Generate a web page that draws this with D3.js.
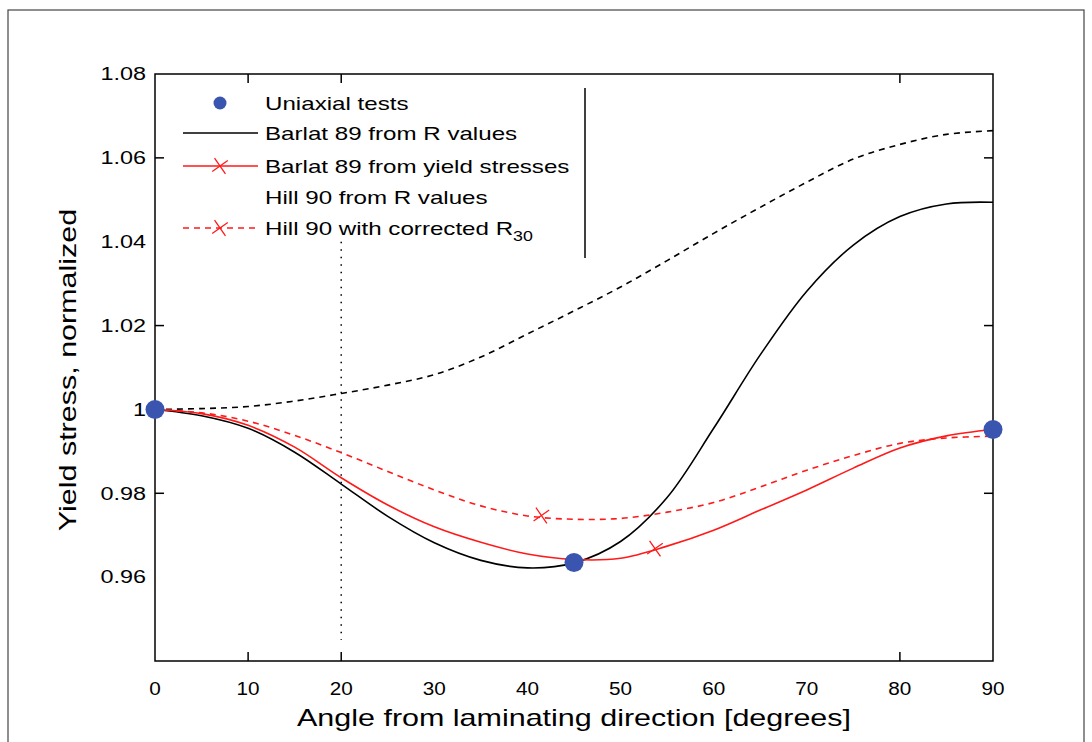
<!DOCTYPE html>
<html><head><meta charset="utf-8">
<script src="https://cdn.jsdelivr.net/npm/d3@7"></script>
<style>body{margin:0;background:#fff}svg{display:block}text{font-family:"Liberation Sans",Arial,sans-serif;fill:#000}</style>
</head><body><svg id="c" width="1092" height="742"></svg>
<script>
const angles = [0,5,10,15,20,25,30,35,40,45,50,55,60,65,70,75,80,85,90];
const barlatR = [1.0000,0.9985,0.9955,0.9898,0.9822,0.9745,0.9682,0.9640,0.9622,0.9634,0.9685,0.9790,0.9955,1.0130,1.0282,1.0392,1.0460,1.0490,1.0494];
const barlatYS = [1.0000,0.9990,0.9962,0.9910,0.9837,0.9772,0.9720,0.9683,0.9655,0.9642,0.9645,0.9674,0.9712,0.9760,0.9808,0.9860,0.9908,0.9937,0.9952];
const hillR = [1.0000,1.0002,1.0007,1.0020,1.0038,1.0058,1.0083,1.0125,1.0180,1.0235,1.0292,1.0355,1.0420,1.0482,1.0542,1.0597,1.0632,1.0656,1.0665];
const hillCorr = [1.0000,0.9992,0.9972,0.9938,0.9897,0.9852,0.9808,0.9770,0.9746,0.9738,0.9740,0.9755,0.9778,0.9815,0.9855,0.9890,0.9919,0.9932,0.9936];
const testAngles = [0,45,90];
const testValues = [1.000,0.9635,0.9952];
const markYS = [[53.7,0.9668]];
const markHill = [[41.5,0.9747]];
const xTickLabels = [0,10,20,30,40,50,60,70,80,90];
const xTickMarks = [10,20,80];
const yTickLabels = [1.08,1.06,1.04,1.02,1,0.98,0.96];
const yTickMarks = [1.06,1.02,0.98];
const refLineX = 20, refLineY = [1.04,0.945];
const legendLabels = ["Uniaxial tests","Barlat 89 from R values","Barlat 89 from yield stresses","Hill 90 from R values","Hill 90 with corrected R"];

const svg = d3.select("#c");
const x = d3.scaleLinear().domain([0,90]).range([155,993]);
const y = d3.scaleLinear().domain([0.94,1.08]).range([661,74]);
const red = "#ff1a1a", blue = "#3a55b0";
function stretch(t, k){ const w = t.node().getComputedTextLength(); t.attr("textLength", w*k).attr("lengthAdjust","spacingAndGlyphs"); return t; }

// outer frame
svg.append("rect").attr("x",8).attr("y",10).attr("width",1076).attr("height",740)
  .attr("fill","none").attr("stroke","#444").attr("stroke-width",1.2);

// axes box
const g = svg.append("g");
g.append("rect").attr("x",x(0)).attr("y",y(1.08)).attr("width",x(90)-x(0)).attr("height",y(0.94)-y(1.08))
  .attr("fill","none").attr("stroke","#000").attr("stroke-width",1.5);
const tl = 9;
xTickMarks.forEach(t=>{
  g.append("line").attr("x1",x(t)).attr("x2",x(t)).attr("y1",y(0.94)).attr("y2",y(0.94)-tl).attr("stroke","#000").attr("stroke-width",1.5);
  g.append("line").attr("x1",x(t)).attr("x2",x(t)).attr("y1",y(1.08)).attr("y2",y(1.08)+tl).attr("stroke","#000").attr("stroke-width",1.5);
});
yTickMarks.forEach(t=>{
  g.append("line").attr("x1",x(0)).attr("x2",x(0)+tl).attr("y1",y(t)).attr("y2",y(t)).attr("stroke","#000").attr("stroke-width",1.5);
  g.append("line").attr("x1",x(90)).attr("x2",x(90)-tl).attr("y1",y(t)).attr("y2",y(t)).attr("stroke","#000").attr("stroke-width",1.5);
});
xTickLabels.forEach(t=>{
  stretch(g.append("text").attr("x",x(t)).attr("y",695).attr("text-anchor","middle").attr("font-size",18).text(t),1.15);
});
yTickLabels.forEach(t=>{
  stretch(g.append("text").attr("x",146).attr("y",y(t)).attr("dy","0.35em").attr("text-anchor","end").attr("font-size",18).text(t),1.3);
});
stretch(svg.append("text").attr("x",574).attr("y",726).attr("text-anchor","middle").attr("font-size",24)
  .text("Angle from laminating direction [degrees]"),1.27);
stretch(svg.append("text").attr("transform","translate(76,370) rotate(-90)").attr("text-anchor","middle").attr("font-size",24)
  .text("Yield stress, normalized"),1.27);

// reference dotted line
g.append("line").attr("x1",x(refLineX)).attr("x2",x(refLineX)).attr("y1",y(refLineY[0])).attr("y2",y(refLineY[1]))
  .attr("stroke","#000").attr("stroke-width",1.5).attr("stroke-dasharray","1.5,6");

const line = d3.line().x((d,i)=>x(angles[i])).y(d=>y(d)).curve(d3.curveCatmullRom);
g.append("path").datum(hillR).attr("d",line).attr("fill","none").attr("stroke","#000").attr("stroke-width",1.6).attr("stroke-dasharray","6,5");
g.append("path").datum(barlatR).attr("d",line).attr("fill","none").attr("stroke","#000").attr("stroke-width",1.6);
g.append("path").datum(hillCorr).attr("d",line).attr("fill","none").attr("stroke",red).attr("stroke-width",1.6).attr("stroke-dasharray","6,5");
g.append("path").datum(barlatYS).attr("d",line).attr("fill","none").attr("stroke",red).attr("stroke-width",1.6);

const xs = d3.symbol().type(d3.symbolX).size(120);
markYS.concat(markHill).forEach(m=>{
  g.append("path").attr("d",xs).attr("transform",`translate(${x(m[0])},${y(m[1])}) rotate(10)`)
   .attr("fill","none").attr("stroke",red).attr("stroke-width",1.3);
});
testAngles.forEach((a,i)=>{
  g.append("circle").attr("cx",x(a)).attr("cy",y(testValues[i])).attr("r",9.5).attr("fill",blue);
});

// legend
const lg = svg.append("g");
const rows = [103,133,166,197,228];
lg.append("line").attr("x1",585).attr("x2",585).attr("y1",88).attr("y2",258).attr("stroke","#000").attr("stroke-width",1.5);
lg.append("circle").attr("cx",220).attr("cy",rows[0]).attr("r",6.5).attr("fill",blue);
lg.append("line").attr("x1",183).attr("x2",258).attr("y1",rows[1]).attr("y2",rows[1]).attr("stroke","#000").attr("stroke-width",1.6);
lg.append("line").attr("x1",183).attr("x2",258).attr("y1",rows[2]).attr("y2",rows[2]).attr("stroke",red).attr("stroke-width",1.6);
lg.append("line").attr("x1",183).attr("x2",258).attr("y1",rows[4]).attr("y2",rows[4]).attr("stroke",red).attr("stroke-width",1.6).attr("stroke-dasharray","6,5");
[rows[2],rows[4]].forEach(r=>{
  lg.append("path").attr("d",xs).attr("transform",`translate(220,${r}) rotate(10)`).attr("fill","none").attr("stroke",red).attr("stroke-width",1.3);
});
legendLabels.forEach((t,i)=>{
  const tx = lg.append("text").attr("x",265).attr("y",rows[i]).attr("dy","0.35em").attr("font-size",19).text(t);
  if(i===4) tx.append("tspan").attr("font-size",14).attr("dy","0.45em").text("30");
  stretch(tx,1.27);
});
</script></body></html>
